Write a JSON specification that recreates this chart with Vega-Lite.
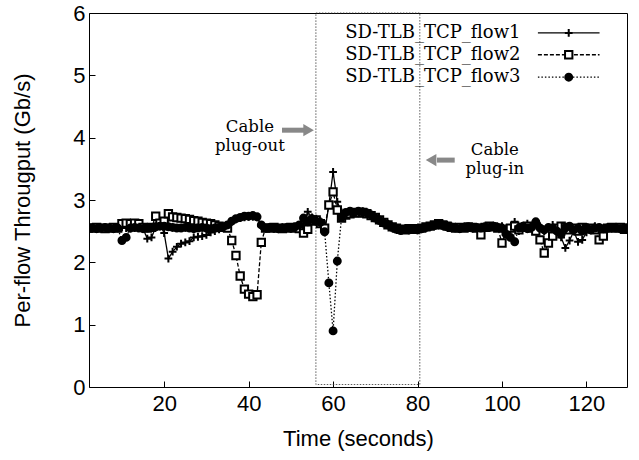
{
"$schema":"https://vega.github.io/schema/vega-lite/v6.json",
"width":538,"height":374,
"autosize":{"type":"none"},
"padding":{"left":89,"top":13,"right":12,"bottom":73},
"background":"white",
"config":{
 "view":{"stroke":"black","strokeWidth":1}
},
"datasets":{
"series":[
{"t":2,"s":"f1","v":2.55},{"t":3,"s":"f1","v":2.56},{"t":4,"s":"f1","v":2.54},{"t":5,"s":"f1","v":2.55},{"t":6,"s":"f1","v":2.56},{"t":7,"s":"f1","v":2.55},{"t":8,"s":"f1","v":2.54},{"t":9,"s":"f1","v":2.55},{"t":10,"s":"f1","v":2.56},{"t":11,"s":"f1","v":2.55},{"t":12,"s":"f1","v":2.54},{"t":13,"s":"f1","v":2.55},{"t":14,"s":"f1","v":2.56},{"t":15,"s":"f1","v":2.54},
{"t":16,"s":"f1","v":2.38},{"t":17,"s":"f1","v":2.40},{"t":18,"s":"f1","v":2.56},{"t":19,"s":"f1","v":2.60},{"t":20,"s":"f1","v":2.47},{"t":21,"s":"f1","v":2.06},{"t":22,"s":"f1","v":2.17},{"t":23,"s":"f1","v":2.25},{"t":24,"s":"f1","v":2.30},{"t":25,"s":"f1","v":2.32},{"t":26,"s":"f1","v":2.34},{"t":27,"s":"f1","v":2.40},{"t":28,"s":"f1","v":2.41},{"t":29,"s":"f1","v":2.42},{"t":30,"s":"f1","v":2.44},{"t":31,"s":"f1","v":2.48},{"t":32,"s":"f1","v":2.50},{"t":33,"s":"f1","v":2.53},{"t":34,"s":"f1","v":2.55},
{"t":35,"s":"f1","v":2.58},{"t":36,"s":"f1","v":2.65},{"t":37,"s":"f1","v":2.69},{"t":38,"s":"f1","v":2.71},{"t":39,"s":"f1","v":2.72},{"t":40,"s":"f1","v":2.73},{"t":41,"s":"f1","v":2.73},{"t":42,"s":"f1","v":2.72},{"t":43,"s":"f1","v":2.58},{"t":44,"s":"f1","v":2.55},
{"t":45,"s":"f1","v":2.55},{"t":46,"s":"f1","v":2.54},{"t":47,"s":"f1","v":2.55},{"t":48,"s":"f1","v":2.56},{"t":49,"s":"f1","v":2.55},{"t":50,"s":"f1","v":2.54},{"t":51,"s":"f1","v":2.56},{"t":52,"s":"f1","v":2.58},
{"t":53,"s":"f1","v":2.62},{"t":54,"s":"f1","v":2.81},{"t":55,"s":"f1","v":2.72},{"t":56,"s":"f1","v":2.70},{"t":57,"s":"f1","v":2.66},{"t":58,"s":"f1","v":2.48},{"t":59,"s":"f1","v":2.92},{"t":60,"s":"f1","v":3.45},{"t":61,"s":"f1","v":2.97},{"t":62,"s":"f1","v":2.80},{"t":63,"s":"f1","v":2.78},{"t":64,"s":"f1","v":2.80},{"t":65,"s":"f1","v":2.79},{"t":66,"s":"f1","v":2.81},{"t":67,"s":"f1","v":2.82},{"t":68,"s":"f1","v":2.80},{"t":69,"s":"f1","v":2.77},{"t":70,"s":"f1","v":2.73},{"t":71,"s":"f1","v":2.69},{"t":72,"s":"f1","v":2.65},{"t":73,"s":"f1","v":2.62},{"t":74,"s":"f1","v":2.58},{"t":75,"s":"f1","v":2.54},{"t":76,"s":"f1","v":2.52},{"t":77,"s":"f1","v":2.52},{"t":78,"s":"f1","v":2.53},{"t":79,"s":"f1","v":2.54},{"t":80,"s":"f1","v":2.53},
{"t":81,"s":"f1","v":2.55},{"t":82,"s":"f1","v":2.56},{"t":83,"s":"f1","v":2.57},{"t":84,"s":"f1","v":2.58},{"t":85,"s":"f1","v":2.60},{"t":86,"s":"f1","v":2.61},{"t":87,"s":"f1","v":2.60},{"t":88,"s":"f1","v":2.58},{"t":89,"s":"f1","v":2.56},{"t":90,"s":"f1","v":2.55},{"t":91,"s":"f1","v":2.55},{"t":92,"s":"f1","v":2.56},{"t":93,"s":"f1","v":2.57},{"t":94,"s":"f1","v":2.56},{"t":95,"s":"f1","v":2.55},{"t":96,"s":"f1","v":2.56},{"t":97,"s":"f1","v":2.57},{"t":98,"s":"f1","v":2.58},{"t":99,"s":"f1","v":2.57},
{"t":100,"s":"f1","v":2.58},{"t":101,"s":"f1","v":2.55},{"t":102,"s":"f1","v":2.52},{"t":103,"s":"f1","v":2.65},{"t":104,"s":"f1","v":2.50},{"t":105,"s":"f1","v":2.55},{"t":106,"s":"f1","v":2.62},{"t":107,"s":"f1","v":2.54},{"t":108,"s":"f1","v":2.52},{"t":109,"s":"f1","v":2.58},{"t":110,"s":"f1","v":2.50},{"t":111,"s":"f1","v":2.56},{"t":112,"s":"f1","v":2.60},{"t":113,"s":"f1","v":2.48},{"t":114,"s":"f1","v":2.40},{"t":115,"s":"f1","v":2.23},{"t":116,"s":"f1","v":2.35},{"t":117,"s":"f1","v":2.50},{"t":118,"s":"f1","v":2.33},{"t":119,"s":"f1","v":2.36},{"t":120,"s":"f1","v":2.48},{"t":121,"s":"f1","v":2.55},{"t":122,"s":"f1","v":2.58},{"t":123,"s":"f1","v":2.55},{"t":124,"s":"f1","v":2.52},{"t":125,"s":"f1","v":2.56},{"t":126,"s":"f1","v":2.55},{"t":127,"s":"f1","v":2.56},{"t":128,"s":"f1","v":2.57},{"t":129,"s":"f1","v":2.56},{"t":130,"s":"f1","v":2.56},
{"t":2,"s":"f2","v":2.55},{"t":3,"s":"f2","v":2.55},{"t":4,"s":"f2","v":2.56},{"t":5,"s":"f2","v":2.55},{"t":6,"s":"f2","v":2.54},{"t":7,"s":"f2","v":2.55},{"t":8,"s":"f2","v":2.56},{"t":9,"s":"f2","v":2.55},
{"t":10,"s":"f2","v":2.62},{"t":11,"s":"f2","v":2.63},{"t":12,"s":"f2","v":2.62},{"t":13,"s":"f2","v":2.63},{"t":14,"s":"f2","v":2.62},{"t":15,"s":"f2","v":2.56},{"t":16,"s":"f2","v":2.55},{"t":17,"s":"f2","v":2.56},{"t":18,"s":"f2","v":2.74},{"t":19,"s":"f2","v":2.63},{"t":20,"s":"f2","v":2.66},{"t":21,"s":"f2","v":2.78},{"t":22,"s":"f2","v":2.73},{"t":23,"s":"f2","v":2.72},{"t":24,"s":"f2","v":2.71},{"t":25,"s":"f2","v":2.70},{"t":26,"s":"f2","v":2.69},{"t":27,"s":"f2","v":2.67},{"t":28,"s":"f2","v":2.66},{"t":29,"s":"f2","v":2.64},{"t":30,"s":"f2","v":2.63},{"t":31,"s":"f2","v":2.62},{"t":32,"s":"f2","v":2.60},{"t":33,"s":"f2","v":2.58},{"t":34,"s":"f2","v":2.56},{"t":35,"s":"f2","v":2.55},
{"t":36,"s":"f2","v":2.35},{"t":37,"s":"f2","v":2.11},{"t":38,"s":"f2","v":1.78},{"t":39,"s":"f2","v":1.57},{"t":40,"s":"f2","v":1.49},{"t":41,"s":"f2","v":1.45},{"t":42,"s":"f2","v":1.48},{"t":43,"s":"f2","v":2.32},{"t":44,"s":"f2","v":2.55},
{"t":45,"s":"f2","v":2.55},{"t":46,"s":"f2","v":2.56},{"t":47,"s":"f2","v":2.55},{"t":48,"s":"f2","v":2.54},{"t":49,"s":"f2","v":2.55},{"t":50,"s":"f2","v":2.56},{"t":51,"s":"f2","v":2.55},{"t":52,"s":"f2","v":2.54},
{"t":53,"s":"f2","v":2.47},{"t":54,"s":"f2","v":2.53},{"t":55,"s":"f2","v":2.66},{"t":56,"s":"f2","v":2.68},{"t":57,"s":"f2","v":2.62},{"t":58,"s":"f2","v":2.55},{"t":59,"s":"f2","v":2.92},{"t":60,"s":"f2","v":3.13},{"t":61,"s":"f2","v":2.84},{"t":62,"s":"f2","v":2.71},{"t":63,"s":"f2","v":2.76},{"t":64,"s":"f2","v":2.78},{"t":65,"s":"f2","v":2.80},{"t":66,"s":"f2","v":2.79},{"t":67,"s":"f2","v":2.80},{"t":68,"s":"f2","v":2.78},{"t":69,"s":"f2","v":2.75},{"t":70,"s":"f2","v":2.72},{"t":71,"s":"f2","v":2.68},{"t":72,"s":"f2","v":2.64},{"t":73,"s":"f2","v":2.60},{"t":74,"s":"f2","v":2.57},{"t":75,"s":"f2","v":2.55},{"t":76,"s":"f2","v":2.53},{"t":77,"s":"f2","v":2.52},{"t":78,"s":"f2","v":2.54},{"t":79,"s":"f2","v":2.53},{"t":80,"s":"f2","v":2.54},
{"t":81,"s":"f2","v":2.55},{"t":82,"s":"f2","v":2.57},{"t":83,"s":"f2","v":2.58},{"t":84,"s":"f2","v":2.60},{"t":85,"s":"f2","v":2.62},{"t":86,"s":"f2","v":2.60},{"t":87,"s":"f2","v":2.58},{"t":88,"s":"f2","v":2.56},{"t":89,"s":"f2","v":2.55},{"t":90,"s":"f2","v":2.56},{"t":91,"s":"f2","v":2.55},{"t":92,"s":"f2","v":2.57},{"t":93,"s":"f2","v":2.56},{"t":94,"s":"f2","v":2.55},{"t":95,"s":"f2","v":2.44},{"t":96,"s":"f2","v":2.56},{"t":97,"s":"f2","v":2.58},{"t":98,"s":"f2","v":2.57},{"t":99,"s":"f2","v":2.55},
{"t":100,"s":"f2","v":2.31},{"t":101,"s":"f2","v":2.50},{"t":102,"s":"f2","v":2.55},{"t":103,"s":"f2","v":2.58},{"t":104,"s":"f2","v":2.52},{"t":105,"s":"f2","v":2.56},{"t":106,"s":"f2","v":2.58},{"t":107,"s":"f2","v":2.55},{"t":108,"s":"f2","v":2.50},{"t":109,"s":"f2","v":2.36},{"t":110,"s":"f2","v":2.15},{"t":111,"s":"f2","v":2.31},{"t":112,"s":"f2","v":2.42},{"t":113,"s":"f2","v":2.55},{"t":114,"s":"f2","v":2.58},{"t":115,"s":"f2","v":2.56},{"t":116,"s":"f2","v":2.52},{"t":117,"s":"f2","v":2.55},{"t":118,"s":"f2","v":2.50},{"t":119,"s":"f2","v":2.56},{"t":120,"s":"f2","v":2.54},{"t":121,"s":"f2","v":2.55},{"t":122,"s":"f2","v":2.52},{"t":123,"s":"f2","v":2.36},{"t":124,"s":"f2","v":2.42},{"t":125,"s":"f2","v":2.55},{"t":126,"s":"f2","v":2.56},{"t":127,"s":"f2","v":2.55},{"t":128,"s":"f2","v":2.56},{"t":129,"s":"f2","v":2.53},{"t":130,"s":"f2","v":2.55},
{"t":2,"s":"f3","v":2.56},{"t":3,"s":"f3","v":2.55},{"t":4,"s":"f3","v":2.54},{"t":5,"s":"f3","v":2.55},{"t":6,"s":"f3","v":2.56},{"t":7,"s":"f3","v":2.55},{"t":8,"s":"f3","v":2.54},{"t":9,"s":"f3","v":2.55},
{"t":10,"s":"f3","v":2.35},{"t":11,"s":"f3","v":2.40},{"t":12,"s":"f3","v":2.55},{"t":13,"s":"f3","v":2.56},{"t":14,"s":"f3","v":2.55},{"t":15,"s":"f3","v":2.54},{"t":16,"s":"f3","v":2.55},{"t":17,"s":"f3","v":2.56},{"t":18,"s":"f3","v":2.57},{"t":19,"s":"f3","v":2.58},{"t":20,"s":"f3","v":2.58},{"t":21,"s":"f3","v":2.57},{"t":22,"s":"f3","v":2.56},{"t":23,"s":"f3","v":2.55},{"t":24,"s":"f3","v":2.55},{"t":25,"s":"f3","v":2.56},{"t":26,"s":"f3","v":2.55},{"t":27,"s":"f3","v":2.54},{"t":28,"s":"f3","v":2.55},{"t":29,"s":"f3","v":2.56},{"t":30,"s":"f3","v":2.55},{"t":31,"s":"f3","v":2.54},{"t":32,"s":"f3","v":2.55},{"t":33,"s":"f3","v":2.56},{"t":34,"s":"f3","v":2.57},
{"t":35,"s":"f3","v":2.60},{"t":36,"s":"f3","v":2.66},{"t":37,"s":"f3","v":2.70},{"t":38,"s":"f3","v":2.72},{"t":39,"s":"f3","v":2.74},{"t":40,"s":"f3","v":2.74},{"t":41,"s":"f3","v":2.75},{"t":42,"s":"f3","v":2.73},{"t":43,"s":"f3","v":2.60},{"t":44,"s":"f3","v":2.55},
{"t":45,"s":"f3","v":2.56},{"t":46,"s":"f3","v":2.55},{"t":47,"s":"f3","v":2.54},{"t":48,"s":"f3","v":2.55},{"t":49,"s":"f3","v":2.56},{"t":50,"s":"f3","v":2.55},{"t":51,"s":"f3","v":2.57},{"t":52,"s":"f3","v":2.60},
{"t":53,"s":"f3","v":2.71},{"t":54,"s":"f3","v":2.65},{"t":55,"s":"f3","v":2.70},{"t":56,"s":"f3","v":2.66},{"t":57,"s":"f3","v":2.64},{"t":58,"s":"f3","v":2.49},{"t":59,"s":"f3","v":1.67},{"t":60,"s":"f3","v":0.90},{"t":61,"s":"f3","v":2.02},{"t":62,"s":"f3","v":2.72},{"t":63,"s":"f3","v":2.80},{"t":64,"s":"f3","v":2.82},{"t":65,"s":"f3","v":2.80},{"t":66,"s":"f3","v":2.82},{"t":67,"s":"f3","v":2.81},{"t":68,"s":"f3","v":2.79},{"t":69,"s":"f3","v":2.76},{"t":70,"s":"f3","v":2.71},{"t":71,"s":"f3","v":2.67},{"t":72,"s":"f3","v":2.63},{"t":73,"s":"f3","v":2.60},{"t":74,"s":"f3","v":2.56},{"t":75,"s":"f3","v":2.53},{"t":76,"s":"f3","v":2.51},{"t":77,"s":"f3","v":2.53},{"t":78,"s":"f3","v":2.52},{"t":79,"s":"f3","v":2.54},{"t":80,"s":"f3","v":2.52},
{"t":81,"s":"f3","v":2.54},{"t":82,"s":"f3","v":2.56},{"t":83,"s":"f3","v":2.58},{"t":84,"s":"f3","v":2.59},{"t":85,"s":"f3","v":2.61},{"t":86,"s":"f3","v":2.59},{"t":87,"s":"f3","v":2.57},{"t":88,"s":"f3","v":2.56},{"t":89,"s":"f3","v":2.55},{"t":90,"s":"f3","v":2.54},{"t":91,"s":"f3","v":2.56},{"t":92,"s":"f3","v":2.57},{"t":93,"s":"f3","v":2.55},{"t":94,"s":"f3","v":2.56},{"t":95,"s":"f3","v":2.55},{"t":96,"s":"f3","v":2.57},{"t":97,"s":"f3","v":2.56},{"t":98,"s":"f3","v":2.58},{"t":99,"s":"f3","v":2.56},
{"t":100,"s":"f3","v":2.55},{"t":101,"s":"f3","v":2.45},{"t":102,"s":"f3","v":2.40},{"t":103,"s":"f3","v":2.33},{"t":104,"s":"f3","v":2.55},{"t":105,"s":"f3","v":2.58},{"t":106,"s":"f3","v":2.54},{"t":107,"s":"f3","v":2.56},{"t":108,"s":"f3","v":2.65},{"t":109,"s":"f3","v":2.55},{"t":110,"s":"f3","v":2.52},{"t":111,"s":"f3","v":2.56},{"t":112,"s":"f3","v":2.55},{"t":113,"s":"f3","v":2.50},{"t":114,"s":"f3","v":2.45},{"t":115,"s":"f3","v":2.55},{"t":116,"s":"f3","v":2.58},{"t":117,"s":"f3","v":2.52},{"t":118,"s":"f3","v":2.55},{"t":119,"s":"f3","v":2.50},{"t":120,"s":"f3","v":2.56},{"t":121,"s":"f3","v":2.52},{"t":122,"s":"f3","v":2.55},{"t":123,"s":"f3","v":2.56},{"t":124,"s":"f3","v":2.54},{"t":125,"s":"f3","v":2.55},{"t":126,"s":"f3","v":2.56},{"t":127,"s":"f3","v":2.55},{"t":128,"s":"f3","v":2.54},{"t":129,"s":"f3","v":2.55},{"t":130,"s":"f3","v":2.56}
],
"legend":[
{"s":"f1","label":"SD-TLB_TCP_flow1","lx":104.4,"sx1":108.5,"sx2":123.1,"mx":115.8,"ly":5.68},
{"s":"f2","label":"SD-TLB_TCP_flow2","lx":104.4,"sx1":108.5,"sx2":123.1,"mx":115.8,"ly":5.33},
{"s":"f3","label":"SD-TLB_TCP_flow3","lx":104.4,"sx1":108.5,"sx2":123.1,"mx":115.8,"ly":4.97}
],
"notes":[
{"x":40.3,"y":4.17,"text":["Cable","plug-out"]},
{"x":98.3,"y":3.80,"text":["Cable","plug-in"]}
],
"arrows":[
{"x1":47.9,"x2":53.2,"hx":54.2,"y":4.12,"dir":"right"},
{"x1":84.6,"x2":88.8,"hx":83.2,"y":3.64,"dir":"left"}
],
"box":[{"x1":55.93,"x2":80.54,"y1":0.04,"y2":6}]
},
"layer":[
{"data":{"name":"box"},"mark":{"type":"rect","fillOpacity":0,"stroke":"#333333","strokeWidth":0.8,"strokeDash":[1.5,1.5]},
 "encoding":{"x":{"field":"x1","type":"quantitative","scale":{"domain":[2.2,129.6],"nice":false,"zero":false},
   "axis":{"title":"Time (seconds)","values":[20,40,60,80,100,120],"format":"d","grid":false,"domain":false,"ticks":true,"tickSize":-6,"tickColor":"black","labelColor":"black","titleColor":"black","labelFont":"Liberation Sans","titleFont":"Liberation Sans","labelFontSize":22,"titleFontSize":22,"titleFontWeight":"normal","labelPadding":12,"titlePadding":14}},
  "x2":{"field":"x2"},
  "y":{"field":"y1","type":"quantitative","scale":{"domain":[0,6],"nice":false},
   "axis":{"title":"Per-flow Througput (Gb/s)","values":[0,1,2,3,4,5,6],"format":"d","grid":false,"domain":false,"ticks":true,"tickSize":-6,"tickColor":"black","labelColor":"black","titleColor":"black","labelFont":"Liberation Sans","titleFont":"Liberation Sans","labelFontSize":22,"titleFontSize":22,"titleFontWeight":"normal","labelPadding":10,"titlePadding":38}},
  "y2":{"field":"y2"}}},
{"data":{"name":"series"},"mark":{"type":"line","clip":true,"strokeWidth":1.3,"color":"black"},
 "encoding":{"x":{"field":"t","type":"quantitative"},"y":{"field":"v","type":"quantitative"},
  "detail":{"field":"s"},"order":{"field":"t"},
  "strokeDash":{"field":"s","type":"nominal","scale":{"domain":["f1","f2","f3"],"range":[[1,0],[4,2],[1.5,2]]},"legend":null}}},
{"data":{"name":"series"},"mark":{"type":"point","clip":true,"filled":true,"stroke":"black","strokeWidth":2,"opacity":1},
 "encoding":{"x":{"field":"t","type":"quantitative"},"y":{"field":"v","type":"quantitative"},
  "shape":{"field":"s","type":"nominal","scale":{"domain":["f1","f2","f3"],"range":["M-1,0H1M0,-1V1","square","circle"]},"legend":null},
  "fill":{"field":"s","type":"nominal","scale":{"domain":["f1","f2","f3"],"range":["black","white","black"]},"legend":null},
  "size":{"field":"s","type":"nominal","scale":{"domain":["f1","f2","f3"],"range":[60,48,26]},"legend":null}}},
{"data":{"name":"legend"},"mark":{"type":"text","align":"right","baseline":"middle","font":"DejaVu Serif","fontSize":18,"color":"black"},
 "encoding":{"x":{"field":"lx","type":"quantitative"},"y":{"field":"ly","type":"quantitative"},"text":{"field":"label"}}},
{"data":{"name":"legend"},"mark":{"type":"rule","strokeWidth":1.3,"color":"black"},
 "encoding":{"x":{"field":"sx1","type":"quantitative"},"x2":{"field":"sx2"},"y":{"field":"ly","type":"quantitative"},
  "strokeDash":{"field":"s","type":"nominal","legend":null}}},
{"data":{"name":"legend"},"mark":{"type":"point","filled":true,"stroke":"black","strokeWidth":2,"opacity":1},
 "encoding":{"x":{"field":"mx","type":"quantitative"},"y":{"field":"ly","type":"quantitative"},
  "shape":{"field":"s","type":"nominal","legend":null},"fill":{"field":"s","type":"nominal","legend":null},"size":{"field":"s","type":"nominal","legend":null}}},
{"data":{"name":"arrows"},"mark":{"type":"rule","strokeWidth":5,"color":"#888888"},
 "encoding":{"x":{"field":"x1","type":"quantitative"},"x2":{"field":"x2"},"y":{"field":"y","type":"quantitative"}}},
{"data":{"name":"arrows"},"transform":[{"filter":"datum.dir === 'right'"}],"mark":{"type":"point","shape":"triangle-right","filled":true,"color":"#888888","opacity":1,"size":150},
 "encoding":{"x":{"field":"hx","type":"quantitative"},"y":{"field":"y","type":"quantitative"}}},
{"data":{"name":"arrows"},"transform":[{"filter":"datum.dir === 'left'"}],"mark":{"type":"point","shape":"triangle-left","filled":true,"color":"#888888","opacity":1,"size":150},
 "encoding":{"x":{"field":"hx","type":"quantitative"},"y":{"field":"y","type":"quantitative"}}},
{"data":{"name":"notes"},"mark":{"type":"text","align":"center","baseline":"middle","font":"DejaVu Serif","fontSize":16.5,"lineHeight":18.5,"color":"black"},
 "encoding":{"x":{"field":"x","type":"quantitative"},"y":{"field":"y","type":"quantitative"},"text":{"field":"text"}}}
]
}
